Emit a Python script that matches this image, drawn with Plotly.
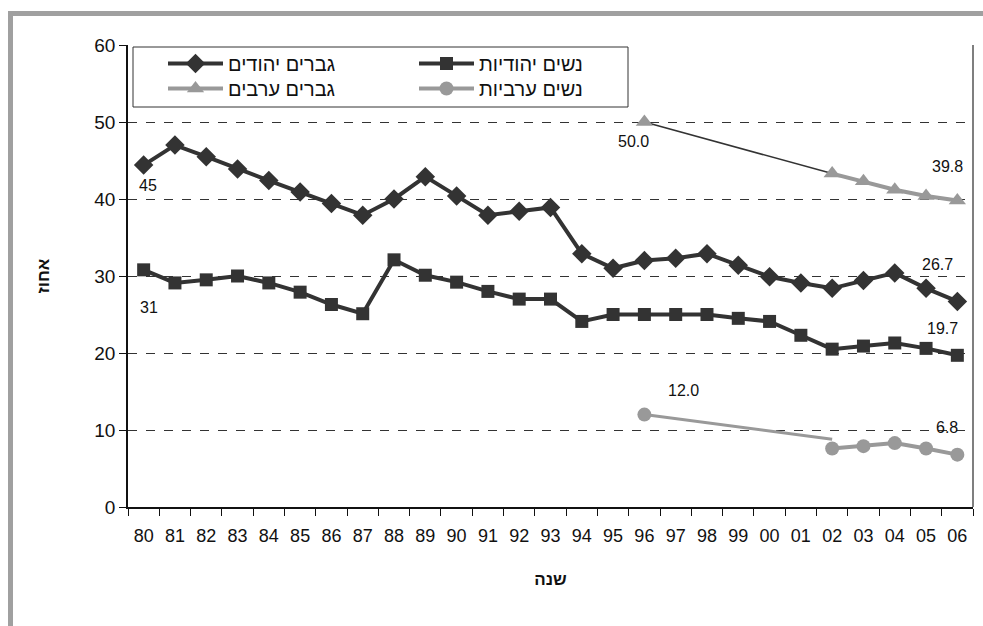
import plotly.graph_objects as go

years = ["80","81","82","83","84","85","86","87","88","89","90","91","92","93",
         "94","95","96","97","98","99","00","01","02","03","04","05","06"]

jewish_men = [44.4, 47.0, 45.5, 43.9, 42.4, 40.9, 39.4, 37.9, 40.0, 42.9, 40.4, 37.9, 38.4, 38.9,
              32.9, 31.0, 32.0, 32.3, 32.9, 31.4, 29.9, 29.1, 28.4, 29.4, 30.4, 28.4, 26.7]
jewish_women = [30.8, 29.1, 29.5, 30.0, 29.1, 27.9, 26.3, 25.1, 32.1, 30.1, 29.2, 28.0, 27.0, 27.0,
                24.1, 25.0, 25.0, 25.0, 25.0, 24.5, 24.1, 22.3, 20.5, 20.9, 21.3, 20.6, 19.7]

arab_years = ["96", "02", "03", "04", "05", "06"]
arab_men = [50.0, 43.3, 42.3, 41.2, 40.4, 39.8]
arab_women = [12.0, 7.6, 7.9, 8.3, 7.6, 6.8]

# connector segments between 96 and 02
conn_years = ["96", "02"]
conn_men = [50.0, 43.3]
conn_women = [12.0, 8.8]

names = ["גברים יהודים", "נשים יהודיות", "גברים ערבים", "נשים ערביות"]

DARK = "#333333"
GRAY = "#999999"
FONT = "Liberation Sans, Arial, sans-serif"


def full(xs, ys):
    m = dict(zip(xs, ys))
    return [m.get(y) for y in years]


fig = go.Figure()

fig.add_trace(go.Scatter(x=conn_years, y=conn_men, mode="lines",
                         line=dict(color=DARK, width=1.5), showlegend=False, hoverinfo="skip"))
fig.add_trace(go.Scatter(x=conn_years, y=conn_women, mode="lines",
                         line=dict(color=GRAY, width=3), showlegend=False, hoverinfo="skip"))

fig.add_trace(go.Scatter(x=years, y=jewish_men, name=names[0], mode="lines+markers",
                         line=dict(color=DARK, width=4), legend="legend",
                         marker=dict(symbol="diamond", size=15, color=DARK)))
fig.add_trace(go.Scatter(x=years, y=jewish_women, name=names[1], mode="lines+markers",
                         line=dict(color=DARK, width=4), legend="legend",
                         marker=dict(symbol="square", size=13, color=DARK)))
fig.add_trace(go.Scatter(x=years, y=full(arab_years, arab_men), name=names[2], mode="lines+markers",
                         connectgaps=False, legend="legend2",
                         line=dict(color=GRAY, width=4),
                         marker=dict(symbol="triangle-up", size=15, color=GRAY)))
fig.add_trace(go.Scatter(x=years, y=full(arab_years, arab_women), name=names[3], mode="lines+markers",
                         connectgaps=False, legend="legend2",
                         line=dict(color=GRAY, width=4),
                         marker=dict(symbol="circle", size=14, color=GRAY)))

# data labels (x given as category index)
labels = [
    ("80", jewish_men[0], "45", 4, -20),
    ("80", jewish_women[0], "31", 5, -38),
    ("96", arab_men[0], "50.0", -11, -19),
    ("06", arab_men[-1], "39.8", -10, 34),
    ("06", jewish_men[-1], "26.7", -20, 37),
    ("06", jewish_women[-1], "19.7", -15, 27),
    ("96", arab_women[0], "12.0", 39, 24),
    ("06", arab_women[-1], "6.8", -10, 27),
]
for x, y, t, dx, dy in labels:
    fig.add_annotation(x=years.index(x), y=y, text=t, showarrow=False, xshift=dx, yshift=dy,
                       font=dict(family=FONT, size=16, color="#111111"))

# frame pieces
L, R, T, B = 128, 973, 45, 507
W, H = R - L, B - T
def px(v): return (v - L) / W
def py(v): return (B - v) / H

shapes = [
    dict(type="line", xref="paper", yref="paper", x0=1, x1=1, y0=0, y1=1,
         line=dict(color="#555555", width=1.5)),
    dict(type="line", xref="paper", yref="paper", x0=px(10.5), x1=px(10.5), y0=py(13), y1=py(640),
         line=dict(color="#a0a0a0", width=5)),
    dict(type="line", xref="paper", yref="paper", x0=px(8), x1=px(990), y0=py(13.5), y1=py(13.5),
         line=dict(color="#a0a0a0", width=5)),
    dict(type="rect", xref="paper", yref="paper", x0=px(133), x1=px(628), y0=py(47), y1=py(107),
         line=dict(color="#333333", width=1), fillcolor="white", layer="between"),
]

leg_common = dict(orientation="h", xanchor="left", yanchor="top",
                  bgcolor="rgba(0,0,0,0)", borderwidth=0,
                  font=dict(family=FONT, size=20, color="#111111"),
                  itemwidth=55, entrywidth=181, traceorder="normal")

fig.update_layout(
    width=983, height=626,
    margin=dict(l=L, r=983 - R, t=T, b=626 - B),
    paper_bgcolor="white", plot_bgcolor="white",
    font=dict(family=FONT, size=18, color="#111111"),
    shapes=shapes,
    legend=dict(x=px(163), y=py(44), **leg_common),
    legend2=dict(x=px(163), y=py(69), **leg_common),
    xaxis=dict(type="category", categoryorder="array", categoryarray=years,
               range=[-0.5, len(years) - 0.5],
               showline=True, linecolor="#111111", linewidth=1.5,
               ticks="outside", tickson="boundaries", ticklen=7, tickcolor="#111111",
               showgrid=False, zeroline=False,
               tickfont=dict(family=FONT, size=18),
               ticklabelstandoff=12,
               title=dict(text="<b>שנה</b>", font=dict(family=FONT, size=17), standoff=28)),
    yaxis=dict(range=[0, 60], tickvals=[0, 10, 20, 30, 40, 50, 60],
               showline=True, linecolor="#111111", linewidth=1.5,
               ticks="outside", ticklen=7, tickcolor="#111111",
               showgrid=True, gridcolor="#333333", griddash="dash", gridwidth=1,
               zeroline=False,
               tickfont=dict(family=FONT, size=19),
               title=dict(text="<b>אחוז</b>", font=dict(family=FONT, size=17), standoff=40)),
)

fig.write_html("out.html")
